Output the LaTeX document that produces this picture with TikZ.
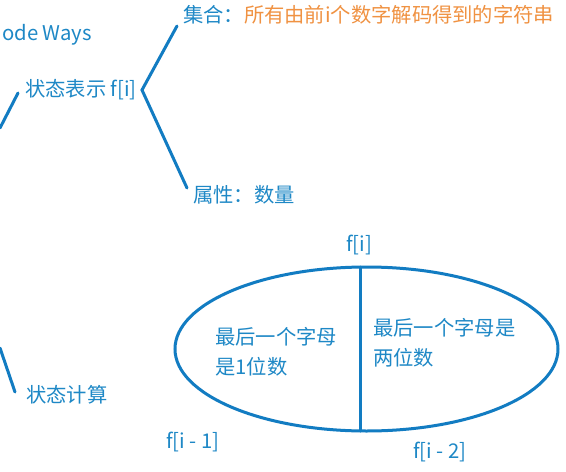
\documentclass[tikz,border=0pt]{standalone}
\usepackage{fontspec}
\setmainfont{Noto Sans CJK SC}
\usetikzlibrary{shapes.geometric}
\definecolor{tblue}{RGB}{30,136,198}
\definecolor{lblue}{RGB}{18,124,194}
\definecolor{torange}{RGB}{240,146,66}
\tikzset{
  lbl/.style={inner sep=0pt, text=tblue, font=\fontsize{20.3}{30}\selectfont},
  conn/.style={draw=lblue, line width=3pt, line cap=round},
}
\begin{document}
\begin{tikzpicture}[x=1pt,y=-1pt]
\useasboundingbox[fill=white] (0,0) rectangle (566,472);
% text nodes
\node[lbl, anchor=east] (title) at (92,35) {ode Ways};
\node[lbl, anchor=west] (rep) at (25,90) {状态表示 f[i]};
\node[lbl, anchor=west] (set) at (183,15) {集合：\textcolor{torange}{所有由前i个数字解码得到的字符串}};
\node[lbl, anchor=west] (attr) at (193,195) {属性：数量};
\node[lbl, anchor=west] (calc) at (26,395) {状态计算};
% ellipse
\node[ellipse, draw=lblue, line width=3pt, minimum width=383pt, minimum height=164pt, inner sep=0pt] (ell) at (366.5,349) {};
\node[lbl] (fi) at (359,245) {f[i]};
\node[lbl] (fim1) at (193,442) {f[i - 1]};
\node[lbl] (fim2) at (440,452) {f[i - 2]};
\node[lbl, anchor=west, align=left] (lt) at (215,352) {最后一个字母\\是1位数};
\node[lbl, anchor=west, align=left] (rt) at (373,343) {最后一个字母是\\两位数};
% coordinates
\coordinate (a1) at (0,128);
\coordinate (a2) at (18,93);
\coordinate (bt) at (177,26);
\coordinate (bm) at (142,90);
\coordinate (bb) at (187,188);
\coordinate (c1) at (0,348);
\coordinate (c2) at (15,392);
\coordinate (vt) at (360,267);
\coordinate (vb) at (360,431);
% connectors
\draw[conn] (a1) -- (a2);
\draw[conn] (bt) -- (bm) -- (bb);
\draw[conn] (c1) -- (c2);
\draw[conn] (vt) -- (vb);
\end{tikzpicture}
\end{document}
